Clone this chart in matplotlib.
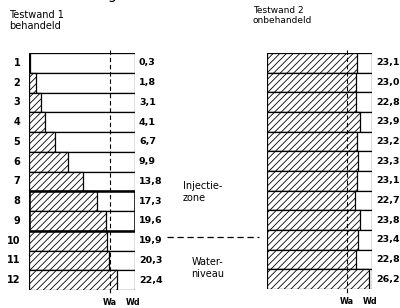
import numpy as np
import matplotlib
matplotlib.use('Agg')
import matplotlib.pyplot as plt
from matplotlib.patches import Rectangle

plt.rcParams['hatch.linewidth'] = 0.6

rows = [str(i) for i in range(1, 13)]
wand1 = [0.3, 1.8, 3.1, 4.1, 6.7, 9.9, 13.8, 17.3, 19.6, 19.9, 20.3, 22.4]
wand2 = [23.1, 23.0, 22.8, 23.9, 23.2, 23.3, 23.1, 22.7, 23.8, 23.4, 22.8, 26.2]
wa = 20.6   # Wa
wd = 27.0   # Wd

W, H = 400, 308
fig = plt.figure(figsize=(W / 100, H / 100), dpi=100)


def px_axes(x0, x1, y0, y1):
    return fig.add_axes([x0 / W, 1 - y1 / H, (x1 - x0) / W, (y1 - y0) / H])


def panel(ax, vals, show_rows):
    ax.set_xlim(0, wd)
    ax.set_ylim(len(vals) + 0.5, 0.5)
    ax.axis('off')
    y = np.arange(1, len(vals) + 1)
    for yi, v in zip(y, vals):
        ax.add_patch(Rectangle((0, yi - 0.5), wd, 1, facecolor='white',
                               edgecolor='black', lw=0.9))
        ax.add_patch(Rectangle((0, yi - 0.5), v, 1, facecolor='white',
                               edgecolor='black', hatch='/////', lw=0.9))
        ax.text(wd + 1.0, yi, f'{v:.1f}'.replace('.', ','), ha='left', va='center',
                fontsize=6.8, fontweight='bold', clip_on=False)
        if show_rows:
            ax.text(-2.2, yi, rows[yi - 1], ha='right', va='center',
                    fontsize=7, fontweight='bold', clip_on=False)
    ax.plot([wa, wa], [0.35, len(vals) + 0.75], color='black', lw=0.8,
            ls=(0, (4, 2.5)), clip_on=False)
    ax.text(wa, len(vals) + 0.9, 'Wa', ha='center', va='top', fontsize=5.8,
            fontweight='bold', clip_on=False)
    ax.text(wd - 0.5, len(vals) + 0.9, 'Wd', ha='center', va='top', fontsize=5.8,
            fontweight='bold', clip_on=False)


ax1 = px_axes(29, 135, 53, 290)
panel(ax1, wand1, True)
# injectie zone frame (rows 8-9)
ax1.add_patch(Rectangle((0, 7.5), wd, 2, facecolor='none', edgecolor='black', lw=1.8))

ax2 = px_axes(267, 372, 53, 289)
panel(ax2, wand2, False)

fig.text(9 / W, 1 - 10 / H, 'Testwand 1\nbehandeld', ha='left', va='top',
         fontsize=7, linespacing=1.1)
fig.text(253 / W, 1 - 6 / H, 'Testwand 2\nonbehandeld', ha='left', va='top',
         fontsize=6.5, linespacing=1.1)
fig.text(183 / W, 1 - 192 / H, 'Injectie-\nzone', ha='left', va='center',
         fontsize=7, linespacing=1.2)
fig.text(208 / W, 1 - 268 / H, 'Water-\nniveau', ha='center', va='center',
         fontsize=7, linespacing=1.2)
fig.add_artist(plt.Line2D([167 / W, 259 / W], [1 - 237 / H, 1 - 237 / H],
                          color='black', lw=0.9, ls=(0, (5, 3))))
fig.text(112 / W, 1 + 0.5 / H, 'g', ha='center', va='baseline', fontsize=10)

fig.savefig('out.png', dpi=100)
